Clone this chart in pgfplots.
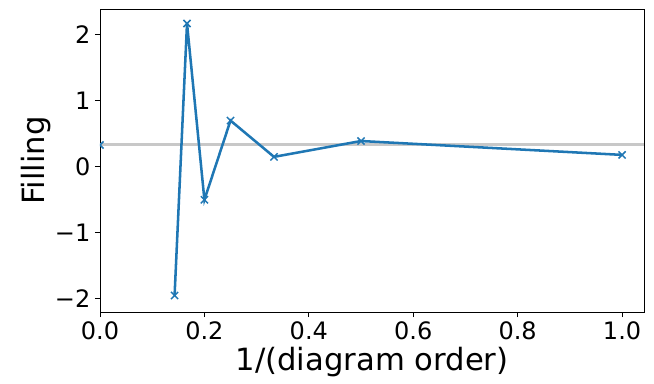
\documentclass[border=0pt]{standalone}
\usepackage{pgfplots}
\pgfplotsset{compat=1.18}
\usepackage{fontspec}
\setmainfont{DejaVu Sans}
\definecolor{tabblue}{HTML}{1F77B4}
\definecolor{refgray}{RGB}{200,200,200}
\begin{document}
\begin{tikzpicture}
\begin{axis}[
  name=ax,
  scale only axis,
  width=408pt, height=227.25pt,
  xmin=0, xmax=1.042, ymin=-2.2, ymax=2.39,
  xtick={0,0.2,0.4,0.6,0.8,1.0},
  xticklabels={0.0,0.2,0.4,0.6,0.8,1.0},
  ytick={-2,-1,0,1,2},
  yticklabels={−2,−1,0,1,2},
  tick align=outside, major tick length=3.75pt,
  tick style={black, line width=0.6pt},
  xtick pos=bottom, ytick pos=left,
  axis line style={line width=0.6pt},
  ticklabel style={font=\fontsize{18}{21}\selectfont},
  /pgf/number format/assume math mode=true,
  xlabel={1/(diagram order)}, ylabel={Filling},
  label style={font=\fontsize{23}{26}\selectfont},
  xlabel style={yshift=1pt},
  ylabel style={yshift=-4pt},
  clip marker paths=true,
]
\addplot[color=refgray, line width=2.2pt, forget plot] coordinates {(0,0.3333) (1.042,0.3333)};
\addplot[color=tabblue, line width=1.9pt, mark=x, mark size=3.8pt, mark options={line width=1.1pt}] coordinates {
(1.0,0.18) (0.5,0.39) (0.3333,0.15) (0.25,0.70) (0.2,-0.50) (0.16667,2.17) (0.142857,-1.95)
};
\addplot[color=tabblue, only marks, mark=x, mark size=3.8pt, mark options={line width=1.1pt}] coordinates {(0,0.33)};
\end{axis}
\pgfresetboundingbox
\path (-75pt,-53.25pt) rectangle (415.5pt,234pt);
\end{tikzpicture}
\end{document}
